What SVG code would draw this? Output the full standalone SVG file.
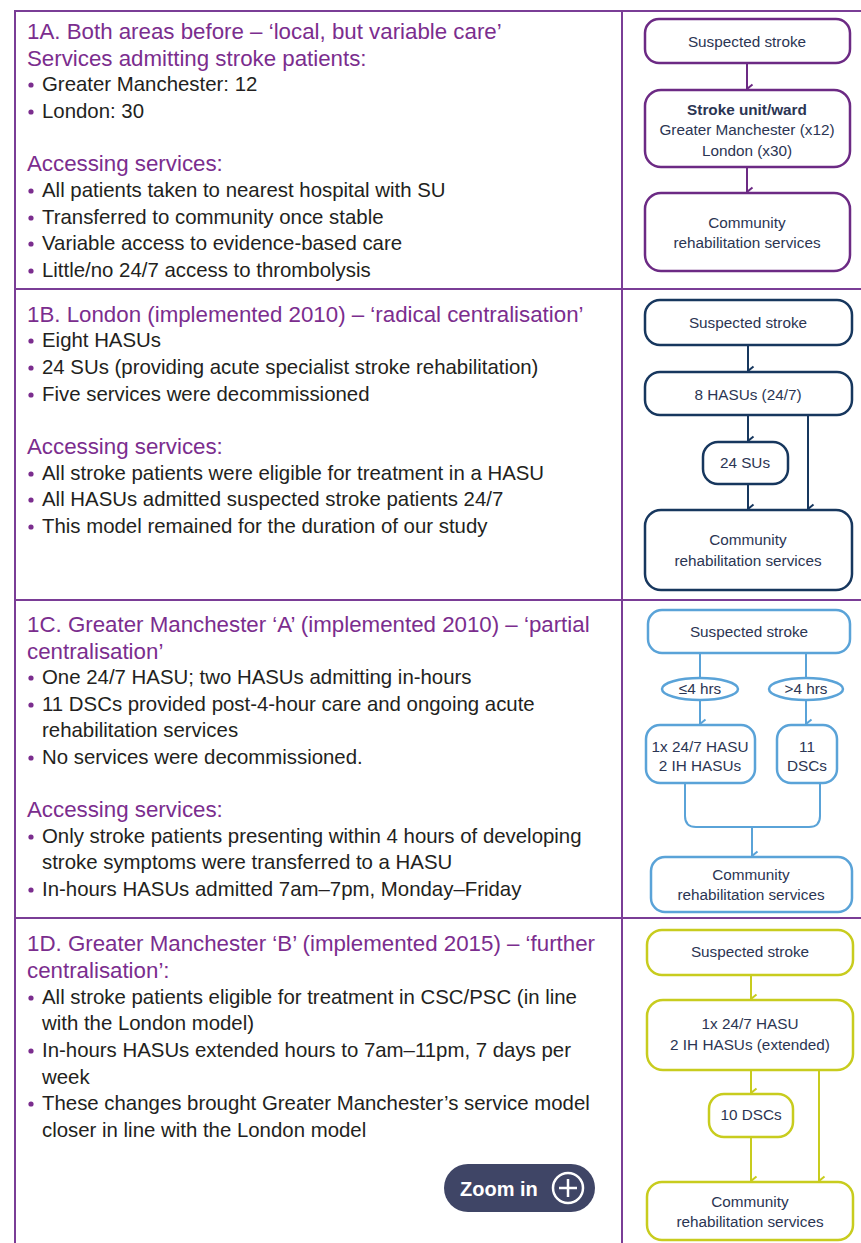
<svg xmlns="http://www.w3.org/2000/svg" width="861" height="1243" viewBox="0 0 861 1243">
  <style>
    .frame { fill: none; stroke: #7a3d96; stroke-width: 2; }
    .head { font-family: "Liberation Sans", Arial, sans-serif; font-size: 22.3px; fill: #7b2d8e; }
    .body { font-family: "Liberation Sans", Arial, sans-serif; font-size: 20.4px; fill: #231f20; }
    .dot { fill: #7b2d8e; }
    .nt { font-family: "Liberation Sans", Arial, sans-serif; font-size: 15.3px; fill: #2b3553; text-anchor: middle; }
    .bold { font-weight: bold; }
    .boxA { fill: #fff; stroke: #6c2a84; stroke-width: 2.5; }
    .boxB { fill: #fff; stroke: #17375e; stroke-width: 2.5; }
    .boxC { fill: #fff; stroke: #5aa3d8; stroke-width: 2.5; }
    .boxD { fill: #fff; stroke: #c8cc1e; stroke-width: 2.5; }
    .lnA { fill: none; stroke: #6c2a84; stroke-width: 2; }
    .lnB { fill: none; stroke: #17375e; stroke-width: 2; }
    .lnC { fill: none; stroke: #5aa3d8; stroke-width: 2; }
    .lnD { fill: none; stroke: #c8cc1e; stroke-width: 2; }
  </style>
  <defs>
    <marker id="arA" viewBox="0 0 12 12" refX="6" refY="11" markerWidth="12" markerHeight="12" markerUnits="userSpaceOnUse" orient="auto-start-reverse">
      <path d="M1.5,5.5 L6,11 L10.5,5.5" fill="none" stroke="#6c2a84" stroke-width="2"/>
    </marker>
    <marker id="arB" viewBox="0 0 12 12" refX="6" refY="11" markerWidth="12" markerHeight="12" markerUnits="userSpaceOnUse" orient="auto-start-reverse">
      <path d="M1.5,5.5 L6,11 L10.5,5.5" fill="none" stroke="#17375e" stroke-width="2"/>
    </marker>
    <marker id="arC" viewBox="0 0 12 12" refX="6" refY="11" markerWidth="12" markerHeight="12" markerUnits="userSpaceOnUse" orient="auto-start-reverse">
      <path d="M1.5,5.5 L6,11 L10.5,5.5" fill="none" stroke="#5aa3d8" stroke-width="2"/>
    </marker>
    <marker id="arD" viewBox="0 0 12 12" refX="6" refY="11" markerWidth="12" markerHeight="12" markerUnits="userSpaceOnUse" orient="auto-start-reverse">
      <path d="M1.5,5.5 L6,11 L10.5,5.5" fill="none" stroke="#c8cc1e" stroke-width="2"/>
    </marker>
  </defs>

  <rect width="861" height="1243" fill="#ffffff"/>

  <!-- table frame -->
  <g id="frame" class="frame">
    <path d="M15,1243 V11 H861"/>
    <path d="M622,11 V1243"/>
    <path d="M15,289 H861 M15,600 H861 M15,918 H861"/>
  </g>

  <!-- panel 1A text -->
  <g id="text-1A">
    <text class="head" x="27" y="39">1A. Both areas before – ‘local, but variable care’</text>
    <text class="head" x="27" y="66">Services admitting stroke patients:</text>
    <circle class="dot" cx="31" cy="85" r="2.6"/><text class="body" x="42" y="91">Greater Manchester: 12</text>
    <circle class="dot" cx="31" cy="112" r="2.6"/><text class="body" x="42" y="118">London: 30</text>
    <text class="head" x="27" y="171">Accessing services:</text>
    <circle class="dot" cx="31" cy="191" r="2.6"/><text class="body" x="42" y="197">All patients taken to nearest hospital with SU</text>
    <circle class="dot" cx="31" cy="218" r="2.6"/><text class="body" x="42" y="224">Transferred to community once stable</text>
    <circle class="dot" cx="31" cy="244" r="2.6"/><text class="body" x="42" y="250">Variable access to evidence-based care</text>
    <circle class="dot" cx="31" cy="271" r="2.6"/><text class="body" x="42" y="277">Little/no 24/7 access to thrombolysis</text>
  </g>

  <!-- panel 1B text -->
  <g id="text-1B">
    <text class="head" x="27" y="322">1B. London (implemented 2010) – ‘radical centralisation’</text>
    <circle class="dot" cx="31" cy="341" r="2.6"/><text class="body" x="42" y="347">Eight HASUs</text>
    <circle class="dot" cx="31" cy="368" r="2.6"/><text class="body" x="42" y="374">24 SUs (providing acute specialist stroke rehabilitation)</text>
    <circle class="dot" cx="31" cy="395" r="2.6"/><text class="body" x="42" y="401">Five services were decommissioned</text>
    <text class="head" x="27" y="454">Accessing services:</text>
    <circle class="dot" cx="31" cy="474" r="2.6"/><text class="body" x="42" y="480">All stroke patients were eligible for treatment in a HASU</text>
    <circle class="dot" cx="31" cy="500" r="2.6"/><text class="body" x="42" y="506">All HASUs admitted suspected stroke patients 24/7</text>
    <circle class="dot" cx="31" cy="527" r="2.6"/><text class="body" x="42" y="533">This model remained for the duration of our study</text>
  </g>

  <!-- panel 1C text -->
  <g id="text-1C">
    <text class="head" x="27" y="632">1C. Greater Manchester ‘A’ (implemented 2010) – ‘partial</text>
    <text class="head" x="27" y="659">centralisation’</text>
    <circle class="dot" cx="31" cy="678" r="2.6"/><text class="body" x="42" y="684">One 24/7 HASU; two HASUs admitting in-hours</text>
    <circle class="dot" cx="31" cy="705" r="2.6"/><text class="body" x="42" y="711">11 DSCs provided post-4-hour care and ongoing acute</text>
    <text class="body" x="42" y="737">rehabilitation services</text>
    <circle class="dot" cx="31" cy="758" r="2.6"/><text class="body" x="42" y="764">No services were decommissioned.</text>
    <text class="head" x="27" y="817">Accessing services:</text>
    <circle class="dot" cx="31" cy="837" r="2.6"/><text class="body" x="42" y="843">Only stroke patients presenting within 4 hours of developing</text>
    <text class="body" x="42" y="869">stroke symptoms were transferred to a HASU</text>
    <circle class="dot" cx="31" cy="890" r="2.6"/><text class="body" x="42" y="896">In-hours HASUs admitted 7am–7pm, Monday–Friday</text>
  </g>

  <!-- panel 1D text -->
  <g id="text-1D">
    <text class="head" x="27" y="951">1D. Greater Manchester ‘B’ (implemented 2015) – ‘further</text>
    <text class="head" x="27" y="978">centralisation’:</text>
    <circle class="dot" cx="31" cy="998" r="2.6"/><text class="body" x="42" y="1004">All stroke patients eligible for treatment in CSC/PSC (in line</text>
    <text class="body" x="42" y="1030">with the London model)</text>
    <circle class="dot" cx="31" cy="1051" r="2.6"/><text class="body" x="42" y="1057">In-hours HASUs extended hours to 7am–11pm, 7 days per</text>
    <text class="body" x="42" y="1084">week</text>
    <circle class="dot" cx="31" cy="1104" r="2.6"/><text class="body" x="42" y="1110">These changes brought Greater Manchester’s service model</text>
    <text class="body" x="42" y="1137">closer in line with the London model</text>
  </g>

  <!-- zoom button -->
  <g id="zoom-button">
    <rect x="444" y="1164" width="151" height="48" rx="24" fill="#3f4566"/>
    <text x="460" y="1196" font-family="Liberation Sans, Arial, sans-serif" font-size="20" font-weight="bold" fill="#ffffff">Zoom in</text>
    <circle cx="568" cy="1188" r="15" fill="none" stroke="#ffffff" stroke-width="2.5"/>
    <path d="M568,1179 V1197 M559,1188 H577" stroke="#ffffff" stroke-width="2.5"/>
  </g>

  <!-- connectors -->
  <g id="connectors">
    <path class="lnA" d="M747,63 V89" marker-end="url(#arA)"/>
    <path class="lnA" d="M747,167 V192" marker-end="url(#arA)"/>

    <path class="lnB" d="M748,345 V371" marker-end="url(#arB)"/>
    <path class="lnB" d="M748,415 V441" marker-end="url(#arB)"/>
    <path class="lnB" d="M748,484 V509" marker-end="url(#arB)"/>
    <path class="lnB" d="M808,415 V509" marker-end="url(#arB)"/>

    <path class="lnC" d="M700,653 V678"/>
    <path class="lnC" d="M806,653 V678"/>
    <path class="lnC" d="M700,700 V724" marker-end="url(#arC)"/>
    <path class="lnC" d="M806,700 V724" marker-end="url(#arC)"/>
    <path class="lnC" d="M685,783 V816 Q685,827 696,827 H809 Q820,827 820,816 V783"/>
    <path class="lnC" d="M752,827 V856" marker-end="url(#arC)"/>

    <path class="lnD" d="M751,975 V999" marker-end="url(#arD)"/>
    <path class="lnD" d="M751,1070 V1093" marker-end="url(#arD)"/>
    <path class="lnD" d="M751,1137 V1181" marker-end="url(#arD)"/>
    <path class="lnD" d="M819,1070 V1181" marker-end="url(#arD)"/>
  </g>

  <!-- 1A nodes -->
  <g id="a-suspected">
    <rect class="boxA" x="645" y="19" width="205" height="44" rx="14"/>
    <text class="nt" x="747" y="47">Suspected stroke</text>
  </g>
  <g id="a-stroke-unit">
    <rect class="boxA" x="645" y="90" width="205" height="77" rx="16"/>
    <text class="nt bold" x="747" y="115">Stroke unit/ward</text>
    <text class="nt" x="747" y="135">Greater Manchester (x12)</text>
    <text class="nt" x="747" y="156">London (x30)</text>
  </g>
  <g id="a-community">
    <rect class="boxA" x="645" y="193" width="205" height="78" rx="16"/>
    <text class="nt" x="747" y="228">Community</text>
    <text class="nt" x="747" y="248">rehabilitation services</text>
  </g>

  <!-- 1B nodes -->
  <g id="b-suspected">
    <rect class="boxB" x="645" y="300" width="207" height="45" rx="15"/>
    <text class="nt" x="748" y="328">Suspected stroke</text>
  </g>
  <g id="b-hasu">
    <rect class="boxB" x="645" y="372" width="207" height="43" rx="15"/>
    <text class="nt" x="748" y="400">8 HASUs (24/7)</text>
  </g>
  <g id="b-su">
    <rect class="boxB" x="703" y="442" width="85" height="42" rx="15"/>
    <text class="nt" x="745" y="468">24 SUs</text>
  </g>
  <g id="b-community">
    <rect class="boxB" x="645" y="510" width="207" height="80" rx="16"/>
    <text class="nt" x="748" y="545">Community</text>
    <text class="nt" x="748" y="566">rehabilitation services</text>
  </g>

  <!-- 1C nodes -->
  <g id="c-suspected">
    <rect class="boxC" x="648" y="610" width="202" height="43" rx="14"/>
    <text class="nt" x="749" y="637">Suspected stroke</text>
  </g>
  <g id="c-within4">
    <ellipse class="boxC" cx="700" cy="689" rx="38" ry="11" stroke-width="2"/>
    <text class="nt" x="700" y="694">≤4 hrs</text>
  </g>
  <g id="c-over4">
    <ellipse class="boxC" cx="806" cy="689" rx="37" ry="11" stroke-width="2"/>
    <text class="nt" x="806" y="694">&gt;4 hrs</text>
  </g>
  <g id="c-hasu">
    <rect class="boxC" x="646" y="725" width="109" height="58" rx="14"/>
    <text class="nt" x="700" y="752">1x 24/7 HASU</text>
    <text class="nt" x="700" y="771">2 IH HASUs</text>
  </g>
  <g id="c-dsc">
    <rect class="boxC" x="777" y="725" width="60" height="58" rx="14"/>
    <text class="nt" x="807" y="752">11</text>
    <text class="nt" x="807" y="771">DSCs</text>
  </g>
  <g id="c-community">
    <rect class="boxC" x="651" y="857" width="201" height="55" rx="14"/>
    <text class="nt" x="751" y="880">Community</text>
    <text class="nt" x="751" y="900">rehabilitation services</text>
  </g>

  <!-- 1D nodes -->
  <g id="d-suspected">
    <rect class="boxD" x="647" y="930" width="206" height="45" rx="15"/>
    <text class="nt" x="750" y="957">Suspected stroke</text>
  </g>
  <g id="d-hasu">
    <rect class="boxD" x="647" y="1000" width="206" height="70" rx="16"/>
    <text class="nt" x="750" y="1029">1x 24/7 HASU</text>
    <text class="nt" x="750" y="1050">2 IH HASUs (extended)</text>
  </g>
  <g id="d-dsc">
    <rect class="boxD" x="709" y="1094" width="84" height="43" rx="15"/>
    <text class="nt" x="751" y="1120">10 DSCs</text>
  </g>
  <g id="d-community">
    <rect class="boxD" x="647" y="1182" width="206" height="58" rx="15"/>
    <text class="nt" x="750" y="1207">Community</text>
    <text class="nt" x="750" y="1227">rehabilitation services</text>
  </g>
</svg>
